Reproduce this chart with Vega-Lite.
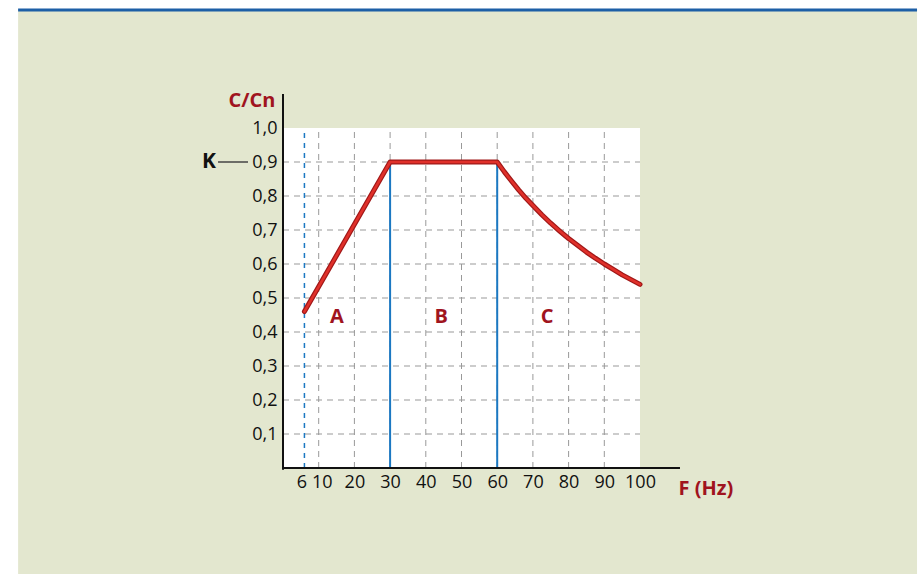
{
  "$schema": "https://vega.github.io/schema/vega-lite/v6.json",
  "width": 357,
  "height": 340,
  "autosize": {"type": "none"},
  "padding": {"left": 283, "top": 128, "right": 282, "bottom": 106},
  "background": "#ffffff",
  "config": {"view": {"stroke": null}, "font": "Open Sans"},
  "datasets": {
    "frame": [{"x": -74.2, "x2": 177.6, "y": -0.312, "y2": 1.35}],
    "topline": [{"x": -74.2, "x2": 177.6, "y": 1.347}],
    "plot": [{"x": 0, "x2": 100, "y": 0, "y2": 1}],
    "vgrid": [{"x": 10, "y": 0, "y2": 1}, {"x": 20, "y": 0, "y2": 1}, {"x": 30, "y": 0, "y2": 1}, {"x": 40, "y": 0, "y2": 1}, {"x": 50, "y": 0, "y2": 1}, {"x": 60, "y": 0, "y2": 1}, {"x": 70, "y": 0, "y2": 1}, {"x": 80, "y": 0, "y2": 1}, {"x": 90, "y": 0, "y2": 1}],
    "hgrid": [{"y": 0.1, "x": 0, "x2": 100}, {"y": 0.2, "x": 0, "x2": 100}, {"y": 0.3, "x": 0, "x2": 100}, {"y": 0.4, "x": 0, "x2": 100}, {"y": 0.5, "x": 0, "x2": 100}, {"y": 0.6, "x": 0, "x2": 100}, {"y": 0.7, "x": 0, "x2": 100}, {"y": 0.8, "x": 0, "x2": 100}, {"y": 0.9, "x": 0, "x2": 100}],
    "dashblue": [{"x": 6, "y": 0, "y2": 1}],
    "solidblue": [{"x": 30, "y": 0, "y2": 0.9}, {"x": 60, "y": 0, "y2": 0.9}],
    "yaxisline": [{"x": 0, "y": -0.005, "y2": 1.1}],
    "xaxisline": [{"y": 0, "x": 0, "x2": 111.2}],
    "kline": [{"y": 0.9, "x": -18.2, "x2": -9.8}],
    "klabel": [{"x": -18.8, "y": 0.9, "t": "K"}],
    "curve": [
      {"x": 6, "y": 0.46},
      {"x": 30, "y": 0.9},
      {"x": 60, "y": 0.9},
      {"x": 62, "y": 0.871},
      {"x": 64, "y": 0.844},
      {"x": 66, "y": 0.818},
      {"x": 68, "y": 0.794},
      {"x": 70, "y": 0.772},
      {"x": 72.5, "y": 0.745},
      {"x": 75, "y": 0.72},
      {"x": 77.5, "y": 0.697},
      {"x": 80, "y": 0.675},
      {"x": 82.5, "y": 0.655},
      {"x": 85, "y": 0.635},
      {"x": 87.5, "y": 0.617},
      {"x": 90, "y": 0.6},
      {"x": 92.5, "y": 0.584},
      {"x": 95, "y": 0.568},
      {"x": 97.5, "y": 0.554},
      {"x": 100, "y": 0.54}
    ],
    "zones": [{"x": 15.1, "y": 0.444, "t": "A"}, {"x": 44.3, "y": 0.444, "t": "B"}, {"x": 74, "y": 0.444, "t": "C"}]
  },
  "encoding": {
    "x": {"field": "x", "type": "quantitative", "scale": {"domain": [0, 100], "nice": false, "zero": false},
      "axis": {"zindex": 2, "values": [6, 10, 20, 30, 40, 50, 60, 70, 80, 90, 100], "grid": false, "domain": false, "ticks": false, "labelFontSize": 18, "labelColor": "#111111", "labelPadding": 5, "labelOverlap": false, "labelFlush": false, "labelOffset": {"expr": "datum.value == 6 ? -3 : (datum.value == 10 ? 3 : 0)"}, "title": "F (Hz)", "titleFontSize": 20, "titleFontWeight": "bold", "titleColor": "#a0141e", "titleAlign": "left", "titleX": 395, "titleY": 20, "titleBaseline": "middle"}},
    "y": {"field": "y", "type": "quantitative", "scale": {"domain": [0, 1], "nice": false, "zero": false},
      "axis": {"zindex": 2, "values": [0.1, 0.2, 0.3, 0.4, 0.5, 0.6, 0.7, 0.8, 0.9, 1.0], "labelExpr": "replace(format(datum.value, '.1f'), '.', ',')", "grid": false, "domain": false, "ticks": false, "labelFontSize": 18, "labelColor": "#111111", "labelPadding": 6, "labelOverlap": false, "labelFlush": false, "title": "C/Cn", "titleAngle": 0, "titleFontSize": 20, "titleFontWeight": "bold", "titleColor": "#a0141e", "titleAlign": "right", "titleBaseline": "middle", "titleX": -8, "titleY": -28}}
  },
  "layer": [
    {"data": {"name": "frame"}, "mark": {"type": "rect", "color": "#e3e7cf"}, "encoding": {"x2": {"field": "x2"}, "y2": {"field": "y2"}}},
    {"data": {"name": "topline"}, "mark": {"type": "rule", "color": "#1d5fa6", "strokeWidth": 3}, "encoding": {"x2": {"field": "x2"}}},
    {"data": {"name": "plot"}, "mark": {"type": "rect", "color": "#ffffff"}, "encoding": {"x2": {"field": "x2"}, "y2": {"field": "y2"}}},
    {"data": {"name": "vgrid"}, "mark": {"type": "rule", "color": "#999999", "strokeWidth": 1, "strokeDash": [6, 5]}, "encoding": {"y2": {"field": "y2"}}},
    {"data": {"name": "hgrid"}, "mark": {"type": "rule", "color": "#999999", "strokeWidth": 1, "strokeDash": [6, 5]}, "encoding": {"x2": {"field": "x2"}}},
    {"data": {"name": "dashblue"}, "mark": {"type": "rule", "color": "#1b78c2", "strokeWidth": 1.5, "strokeDash": [5, 5]}, "encoding": {"y2": {"field": "y2"}}},
    {"data": {"name": "solidblue"}, "mark": {"type": "rule", "color": "#1b78c2", "strokeWidth": 2}, "encoding": {"y2": {"field": "y2"}}},
    {"data": {"name": "yaxisline"}, "mark": {"type": "rule", "color": "#111111", "strokeWidth": 2}, "encoding": {"y2": {"field": "y2"}}},
    {"data": {"name": "xaxisline"}, "mark": {"type": "rule", "color": "#111111", "strokeWidth": 2}, "encoding": {"x2": {"field": "x2"}}},
    {"data": {"name": "kline"}, "mark": {"type": "rule", "color": "#444444", "strokeWidth": 1.5}, "encoding": {"x2": {"field": "x2"}}},
    {"data": {"name": "klabel"}, "mark": {"type": "text", "align": "right", "baseline": "middle", "fontSize": 21, "fontWeight": "bold", "color": "#111111"}, "encoding": {"text": {"field": "t"}}},
    {"data": {"name": "curve"}, "mark": {"type": "line", "color": "#a01818", "strokeWidth": 5, "strokeCap": "round", "strokeJoin": "round"}, "encoding": {}},
    {"data": {"name": "curve"}, "mark": {"type": "line", "color": "#e0302a", "strokeWidth": 2.6, "strokeCap": "round", "strokeJoin": "round"}, "encoding": {}},
    {"data": {"name": "zones"}, "mark": {"type": "text", "align": "center", "baseline": "middle", "fontSize": 20, "fontWeight": "bold", "color": "#a0141e"}, "encoding": {"text": {"field": "t"}}}
  ]
}
